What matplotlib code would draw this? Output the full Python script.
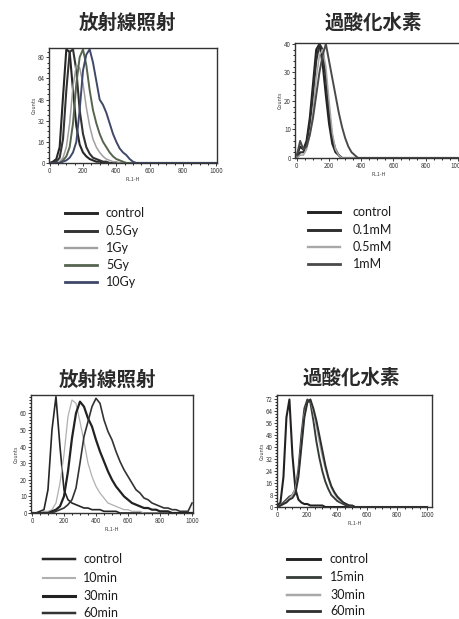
import numpy as np
import matplotlib
matplotlib.use("Agg")
import matplotlib.pyplot as plt
from matplotlib.lines import Line2D

plt.rcParams['font.family'] = ['Noto Sans CJK JP', 'DejaVu Sans']

# ---- data ----
# top left: irradiation dose
tl_x = list(range(0, 601, 20)) + [1000]
tl_labels = ['control', '0.5Gy', '1Gy', '5Gy', '10Gy']
tl_control = [0, 1, 3, 12, 50, 86, 84, 55, 28, 14, 8, 5, 3, 2, 1, 1, 0, 0, 0, 0, 0, 0, 0, 0, 0, 0, 0, 0, 0, 0, 0, 0]
tl_05gy = [0, 0, 1, 4, 18, 55, 84, 86, 70, 40, 22, 12, 7, 4, 3, 2, 1, 1, 0, 0, 0, 0, 0, 0, 0, 0, 0, 0, 0, 0, 0, 0]
tl_1gy = [0, 0, 0, 1, 4, 12, 30, 58, 74, 72, 60, 42, 28, 18, 12, 8, 5, 3, 2, 1, 1, 0, 0, 0, 0, 0, 0, 0, 0, 0, 0, 0]
tl_5gy = [0, 0, 0, 0, 2, 5, 12, 30, 60, 80, 86, 74, 55, 40, 30, 22, 16, 12, 8, 5, 3, 2, 1, 0, 0, 0, 0, 0, 0, 0, 0, 0]
tl_10gy = [0, 0, 0, 0, 1, 2, 4, 8, 16, 40, 70, 82, 86, 76, 62, 48, 44, 38, 30, 22, 16, 11, 8, 6, 3, 1, 0, 0, 0, 0, 0, 0]

# top right: hydrogen peroxide concentration
tr_x = list(range(0, 401, 20)) + [1000]
tr_labels = ['control', '0.1mM', '0.5mM', '1mM']
tr_control = [1, 4, 3, 6, 14, 26, 38, 40, 33, 22, 12, 5, 2, 1, 0, 0, 0, 0, 0, 0, 0, 0]
tr_01mm = [0, 2, 2, 5, 12, 22, 34, 40, 38, 28, 16, 7, 3, 1, 0, 0, 0, 0, 0, 0, 0, 0]
tr_05mm = [0, 1, 1, 3, 8, 16, 28, 36, 38, 32, 20, 9, 3, 1, 0, 0, 0, 0, 0, 0, 0, 0]
tr_1mm = [1, 6, 3, 4, 8, 14, 22, 30, 36, 40, 34, 28, 22, 16, 11, 7, 4, 2, 1, 0, 0, 0]

# bottom left: irradiation time course
bl_x = list(range(0, 1001, 25))
bl_labels = ['control', '10min', '30min', '60min']
bl_control = [0, 0, 1, 2, 14, 50, 70, 40, 14, 8, 6, 5, 4, 3, 3, 2, 2, 2, 1, 1, 1, 1,
              0, 0, 0, 0, 0, 0, 0, 0, 0, 0, 0, 0, 0, 0, 0, 0, 0, 0, 0]
bl_10min = [0, 0, 0, 1, 1, 2, 6, 18, 35, 58, 68, 66, 55, 43, 30, 22, 16, 12, 9, 6, 5, 4,
            3, 2, 2, 1, 1, 1, 0, 0, 0, 0, 0, 0, 0, 0, 0, 0, 0, 0, 0]
bl_30min = [0, 0, 0, 0, 0, 1, 2, 4, 10, 25, 45, 60, 67, 64, 57, 52, 44, 37, 31, 25, 20, 16,
            13, 10, 8, 6, 5, 4, 3, 3, 2, 2, 1, 1, 1, 0, 0, 0, 0, 0, 0]
bl_60min = [0, 0, 0, 0, 0, 0, 1, 2, 3, 5, 8, 15, 30, 46, 55, 64, 69, 66, 56, 49, 44, 37,
            31, 26, 22, 18, 14, 12, 9, 8, 6, 5, 4, 3, 3, 2, 2, 1, 1, 1, 6]

# bottom right: hydrogen peroxide time course
br_x = list(range(0, 601, 20)) + [1000]
br_labels = ['control', '15min', '30min', '60min']
br_control = [1, 3, 20, 60, 72, 35, 12, 5, 3, 2, 2, 1, 1, 1, 1, 1, 0, 0, 0, 0, 0, 0, 0, 0, 0, 0, 0, 0, 0, 0, 0, 0]
br_15min = [0, 1, 3, 5, 7, 8, 12, 25, 48, 66, 72, 70, 58, 44, 33, 24, 17, 12, 8, 6, 4, 3, 2, 1, 1, 0, 0, 0, 0, 0, 0, 0]
br_30min = [0, 1, 2, 4, 6, 8, 12, 22, 42, 62, 70, 72, 64, 54, 44, 34, 26, 19, 13, 9, 6, 4, 3, 2, 1, 1, 0, 0, 0, 0, 0, 0]
br_60min = [0, 1, 2, 3, 5, 6, 9, 20, 40, 60, 70, 72, 66, 58, 48, 38, 28, 20, 14, 10, 7, 5, 3, 2, 1, 1, 0, 0, 0, 0, 0, 0]

# ---- styles ----
tl_colors = ['#262626', '#333333', '#a0a0a0', '#56654f', '#3f4868']
tl_widths = [1.5, 1.5, 1.1, 1.4, 1.4]
tr_colors = ['#222222', '#2e2e2e', '#a8a8a8', '#4a4a4a']
tr_widths = [1.5, 1.5, 1.1, 1.4]
bl_colors = ['#262626', '#b0b0b0', '#222222', '#333333']
bl_widths = [1.2, 0.9, 1.6, 1.2]
br_colors = ['#222222', '#363d36', '#a8a8a8', '#2e2e2e']
br_widths = [1.5, 1.4, 1.2, 1.4]

W, H = 460, 619
fig = plt.figure(figsize=(W / 100, H / 100), dpi=100)


def px_axes(left, right, top, bottom):
    return fig.add_axes([left / W, 1 - bottom / H, (right - left) / W, (bottom - top) / H])


def style(ax, xlim, ylim, yticks):
    ax.set_xlim(*xlim)
    ax.set_ylim(*ylim)
    ax.set_xticks([0, 200, 400, 600, 800, 1000])
    ax.set_yticks(yticks)
    ax.tick_params(labelsize=4.5, length=2, width=0.7, colors='#3a3a3a', pad=1)
    ax.minorticks_on()
    ax.tick_params(which='minor', length=1.3, width=0.6)
    ax.set_xlabel('FL1-H', fontsize=3.8, labelpad=1, color='#3a3a3a')
    ax.set_ylabel('Counts', fontsize=3.8, labelpad=1, color='#3a3a3a')
    for s in ax.spines.values():
        s.set_linewidth(1.0)
        s.set_color('#333333')


def legend(x0, x1, xt, rows, labels, colors, widths):
    for y, lab, c, w in zip(rows, labels, colors, widths):
        fig.add_artist(Line2D([x0 / W, x1 / W], [1 - y / H, 1 - y / H], color=c, lw=w + 0.6))
        fig.text(xt / W, 1 - y / H, lab, fontsize=9, family=['Lato', 'DejaVu Sans'],
                 color='#1c1c1c', va='center', ha='left')


def title(x, y, text):
    fig.text(x / W, 1 - y / H, text, fontsize=14, weight='bold', ha='center', va='center',
             color='#2a2a2a')


# top left
ax = px_axes(49, 217, 48, 163)
for ys, c, w in zip([tl_control, tl_05gy, tl_1gy, tl_5gy, tl_10gy], tl_colors, tl_widths):
    ax.plot(tl_x, ys, color=c, lw=w)
style(ax, (-4, 1004), (0, 87), [0, 16, 32, 48, 64, 80])
title(127, 23, '放射線照射')
legend(65, 97, 106, [213, 231, 248, 265, 282], tl_labels, tl_colors, tl_widths)

# top right
ax = px_axes(295, 462, 42.5, 158)
for ys, c, w in zip([tr_control, tr_01mm, tr_05mm, tr_1mm], tr_colors, tr_widths):
    ax.plot(tr_x, ys, color=c, lw=w)
style(ax, (-12, 1027), (0, 40.5), [0, 10, 20, 30, 40])
title(373, 23, '過酸化水素')
legend(308, 340, 353, [212, 230, 247, 264], tr_labels, tr_colors, tr_widths)

# bottom left
ax = px_axes(31, 193, 395, 513)
for ys, c, w in zip([bl_control, bl_10min, bl_30min, bl_60min], bl_colors, bl_widths):
    ax.plot(bl_x, ys, color=c, lw=w)
style(ax, (-6, 1006), (0, 71), [0, 10, 20, 30, 40, 50, 60])
title(107, 380, '放射線照射')
legend(43, 75, 83, [559, 578, 596, 613], bl_labels, bl_colors, bl_widths)

# bottom right
ax = px_axes(277, 432, 395, 507)
for ys, c, w in zip([br_control, br_15min, br_30min, br_60min], br_colors, br_widths):
    ax.plot(br_x, ys, color=c, lw=w)
style(ax, (-3, 1033), (0, 75), [0, 8, 16, 24, 32, 40, 48, 56, 64, 72])
title(351, 378, '過酸化水素')
legend(287, 320, 330, [559, 577, 595, 611], br_labels, br_colors, br_widths)

fig.savefig('out.png', dpi=100, facecolor='white')
